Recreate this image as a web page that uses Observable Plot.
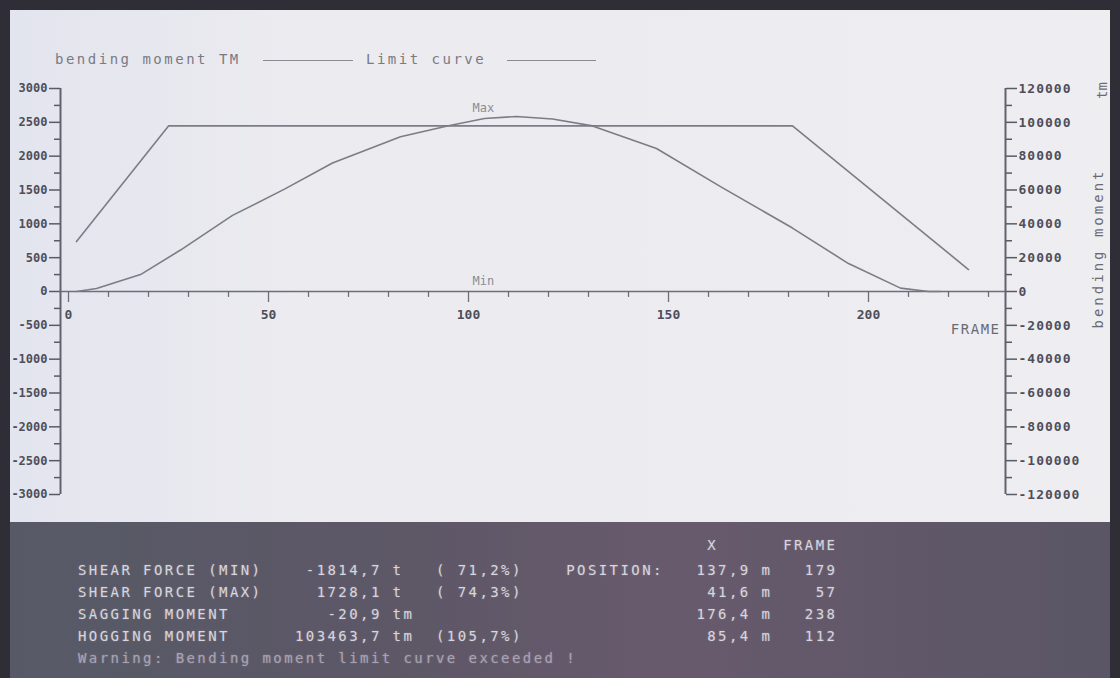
<!DOCTYPE html>
<html>
<head>
<meta charset="utf-8">
<script src="https://cdn.jsdelivr.net/npm/d3@7"></script>
<script src="https://cdn.jsdelivr.net/npm/@observablehq/plot@0.6"></script>
<style>
  html, body { margin: 0; padding: 0; width: 1120px; height: 678px; overflow: hidden; background: #2f2d35; }
  #screen { position: absolute; left: 10px; top: 10px; width: 1100px; height: 512px;
    background: linear-gradient(90deg, #e3e5ee 0%, #ebebf0 25%, #eeedf0 100%); }
  #legend { position: relative; height: 65px; font-family: "DejaVu Sans Mono", monospace; font-size: 14px; color: #7a7a84; }
  #legend .t { position: absolute; top: 41px; letter-spacing: 2.5px; white-space: pre; }
  #legend .l { position: absolute; top: 50px; height: 0; border-top: 1.5px solid #8a8a92; }
  #chart { position: absolute; left: -10px; top: 65px; }
  #panel { position: absolute; left: 10px; top: 522px; width: 1100px; height: 156px;
    background: linear-gradient(90deg, #575a66 0%, #5d5766 35%, #675a6c 60%, #5a5666 100%); }
  #panel pre { margin: 0; padding: 0 0 0 68px; font-family: "DejaVu Sans Mono", monospace; font-size: 14px;
    letter-spacing: 2.42px; line-height: 22px; color: #d8d5de; text-shadow: 0 0 2px rgba(255,255,255,0.25); }
  #panel pre.head { margin-top: 12px; margin-bottom: 3px; }
  #panel pre.warn { color: #a9a2b4; }
</style>
</head>
<body>
<div id="screen">
  <div id="legend">
    <span class="t" style="left:45px">bending moment TM</span>
    <span class="l" style="left:253px;width:90px"></span>
    <span class="t" style="left:356px">Limit curve</span>
    <span class="l" style="left:497px;width:89px"></span>
  </div>
  <div id="chart"></div>
</div>
<div id="panel"></div>
<script>
// ---- data ----
const bmFrames = [2, 7, 18, 28, 41, 54, 66, 83, 95, 104, 112, 121, 131, 147, 163, 181, 195, 208, 215, 218];
const bmValues = [0, 1800, 10000, 24500, 45000, 60500, 76000, 91500, 98000, 102300, 103464, 102000, 97900, 84500, 62000, 37500, 16500, 2000, 0, 0];
const limitFrames = [2, 25, 181, 225];
const limitValues = [29500, 97900, 97900, 13000];

const frameTicks = [0,10,20,30,40,50,60,70,80,90,100,110,120,130,140,150,160,170,180,190,200,210,220,230];
const frameLabels = [0, 50, 100, 150, 200];
const momentTicks = [-120000,-100000,-80000,-60000,-40000,-20000,0,20000,40000,60000,80000,100000,120000];
const momentMinor = [-110000,-90000,-70000,-50000,-30000,-10000,10000,30000,50000,70000,90000,110000];
const shearPerMoment = 1 / 40; // left axis: shear force (t) ±3000 shares the moment axis ±120000

const rowLabels = ["SHEAR FORCE (MIN)", "SHEAR FORCE (MAX)", "SAGGING MOMENT", "HOGGING MOMENT"];
const rowValues = ["-1814,7", "1728,1", "-20,9", "103463,7"];
const rowUnits = ["t", "t", "tm", "tm"];
const rowPercents = ["( 71,2%)", "( 74,3%)", "", "(105,7%)"];
const rowPosX = ["137,9", "41,6", "176,4", "85,4"];
const rowFrames = ["179", "57", "238", "112"];
const warning = "Warning: Bending moment limit curve exceeded !";

const bending = bmFrames.map((f, i) => ({frame: f, value: bmValues[i]}));
const limit = limitFrames.map((f, i) => ({frame: f, value: limitValues[i]}));
const maxValue = d3.max(bmValues);

const xDomain = [-2, 234.25];
const yDomain = [-120000, 120000];
const mono = "DejaVu Sans Mono, monospace";
const lineColor = "#7c7c86";
const axisColor = "#5a5a66";

const chart = Plot.plot({
  width: 1110,
  height: 447,
  marginLeft: 60,
  marginRight: 105,
  marginTop: 13,
  marginBottom: 28,
  style: {background: "transparent", color: axisColor, fontFamily: mono, overflow: "visible"},
  x: {domain: xDomain, axis: null},
  y: {domain: yDomain},
  marks: [
    // axis lines
    Plot.ruleX(xDomain, {y1: yDomain[0], y2: yDomain[1], stroke: "#62626e", strokeWidth: 2}),
    Plot.ruleY([0], {x1: xDomain[0], x2: xDomain[1], stroke: "#6e6e78", strokeWidth: 1.6}),
    // frame ticks on the zero line
    Plot.ruleX(frameTicks, {x: d => d, y1: 0, y2: d => frameLabels.includes(d) ? -6500 : -3500, stroke: "#6e6e78", strokeWidth: 1.3}),
    Plot.text(frameLabels, {x: d => d, y: 0, text: d => String(d), dy: 23, fontSize: 13, fontWeight: "bold", fill: "#4e4e5a"}),
    Plot.text(["FRAME"], {x: xDomain[1], y: 0, text: d => d, textAnchor: "end", dx: -5, dy: 38, fontSize: 14, fill: "#6a6a74"}),
    // left axis (shear force)
    Plot.axisY({anchor: "left", ticks: momentTicks, tickSize: 11, tickPadding: 2, tickFormat: d => String(Math.round(d * shearPerMoment)),
      label: null, fontSize: 12, fontWeight: "bold", fill: "#4e4e5a", stroke: axisColor, strokeWidth: 1.5}),
    Plot.axisY({anchor: "left", ticks: momentMinor, tickSize: 6, tickFormat: () => "", label: null, stroke: axisColor, strokeWidth: 1.5}),
    // right axis (bending moment)
    Plot.axisY({anchor: "right", ticks: momentTicks, tickSize: 11, tickPadding: 2, tickFormat: d => String(d),
      label: null, fontSize: 13, fontWeight: "bold", fill: "#4e4e5a", stroke: axisColor, strokeWidth: 1.5}),
    Plot.axisY({anchor: "right", ticks: momentMinor, tickSize: 6, tickFormat: () => "", label: null, stroke: axisColor, strokeWidth: 1.5}),
    Plot.text(["bending moment"], {frameAnchor: "right", text: d => d, rotate: -90, textAnchor: "middle", dx: 93, dy: -43, fontSize: 14, fill: "#6a6a74"}),
    Plot.text(["tm"], {frameAnchor: "top-right", text: d => d, rotate: -90, textAnchor: "middle", dx: 92, dy: 2, fontSize: 14, fill: "#6a6a74"}),
    // curves
    Plot.line(limit, {x: "frame", y: "value", stroke: lineColor, strokeWidth: 1.6}),
    Plot.line(bending, {x: "frame", y: "value", stroke: lineColor, strokeWidth: 1.6}),
    // annotations
    Plot.text([{frame: 101, value: maxValue}], {x: "frame", y: "value", text: () => "Max", textAnchor: "start", dy: -8, fontSize: 12, fill: "#8c8c96"}),
    Plot.text([{frame: 101, value: 0}], {x: "frame", y: "value", text: () => "Min", textAnchor: "start", dy: -10, fontSize: 12, fill: "#8c8c96"})
  ]
});
document.getElementById("chart").appendChild(chart);
chart.querySelectorAll("text").forEach(t => {
  if (t.textContent === "bending moment") t.setAttribute("letter-spacing", "3");
  if (t.textContent === "FRAME") t.setAttribute("letter-spacing", "1.5");
});
chart.querySelectorAll('g[aria-label="y-axis tick label"]').forEach(g => {
  g.setAttribute("letter-spacing", g.getAttribute("text-anchor") === "end" ? "0" : "1");
});

// ---- bottom status panel ----
const panel = document.getElementById("panel");
function addLine(text, cls) {
  const pre = document.createElement("pre");
  if (cls) pre.className = cls;
  pre.textContent = text;
  panel.appendChild(pre);
}
addLine("".padEnd(58) + "X" + "".padEnd(6) + "FRAME", "head");
rowLabels.forEach((label, i) => {
  let line = label.padEnd(20) + rowValues[i].padStart(8) + " " + rowUnits[i];
  line = line.padEnd(33) + rowPercents[i];
  line = line.padEnd(45) + (i === 0 ? "POSITION:" : "");
  line = line.padEnd(56) + rowPosX[i].padStart(6) + " m";
  line = line.padEnd(66) + rowFrames[i].padStart(4);
  addLine(line);
});
addLine(warning, "warn");
</script>
</body>
</html>
